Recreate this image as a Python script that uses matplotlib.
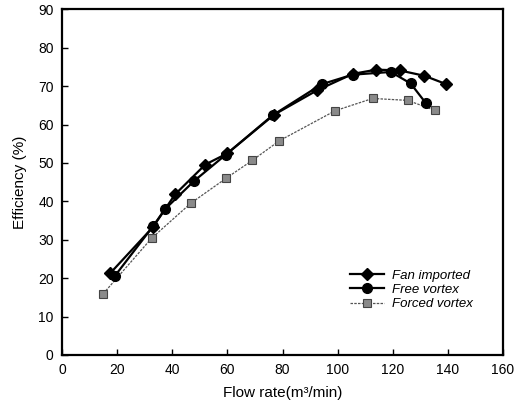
import matplotlib
matplotlib.use("Agg")
import matplotlib.pyplot as plt

plt.rcParams['font.family'] = ['Liberation Sans', 'DejaVu Sans']

# Efficiency curves against flow rate (m^3/min)
fan_flow = [17.5, 33, 41, 52, 60, 77, 92.5, 105.5, 114, 122.5, 131.5, 139.5]
fan_eff = [21.3, 33.3, 41.8, 49.6, 52.5, 62.6, 68.9, 73.2, 74.3, 74.1, 72.7, 70.5]

free_flow = [19.2, 33.1, 37.4, 47.9, 59.5, 76.4, 94.2, 105.5, 119.3, 126.5, 132.1]
free_eff = [20.6, 33.6, 38.0, 45.3, 52.2, 62.4, 70.5, 73.0, 73.7, 70.7, 65.5]

forced_flow = [15.0, 32.5, 46.7, 59.5, 69.1, 78.9, 99.1, 112.7, 125.4, 135.3]
forced_eff = [16.0, 30.4, 39.5, 46.0, 50.7, 55.8, 63.6, 66.8, 66.3, 63.7]

x_ticks = [0, 20, 40, 60, 80, 100, 120, 140, 160]
y_ticks = [0, 10, 20, 30, 40, 50, 60, 70, 80, 90]

fig = plt.figure(figsize=(5.22, 4.07), dpi=100)
ax = fig.add_axes([0.1188, 0.1278, 0.9636 - 0.1188, 0.977 - 0.1278])

ax.plot(fan_flow, fan_eff, color='black', lw=1.6, marker='D', ms=6.5,
        mfc='black', mec='black', label='Fan imported', zorder=3)
ax.plot(free_flow, free_eff, color='black', lw=1.6, marker='o', ms=7,
        mfc='black', mec='black', label='Free vortex', zorder=3)
ax.plot(forced_flow, forced_eff, color='#555555', lw=0.9, ls=(0, (2, 1)),
        marker='s', ms=6, mfc='#8a8a8a', mec='#444444', mew=0.8,
        label='Forced vortex', zorder=2)

ax.set_xlim(0, 160)
ax.set_ylim(0, 90)
ax.set_xticks(x_ticks)
ax.set_yticks(y_ticks)
ax.tick_params(direction='in', length=4, width=1.0, labelsize=10,
               top=False, right=False, pad=6)
for s in ax.spines.values():
    s.set_linewidth(1.6)

ax.set_xlabel('Flow rate(m\u00b3/min)', fontsize=11, labelpad=6)
ax.set_ylabel('Efficiency (%)', fontsize=11, labelpad=8)

leg = ax.legend(loc='lower right', bbox_to_anchor=(0.958, 0.095), frameon=False,
                handlelength=2.6, labelspacing=0.15, handletextpad=0.6,
                prop={'style': 'italic', 'size': 9.5})

fig.savefig('out.png', dpi=100)
